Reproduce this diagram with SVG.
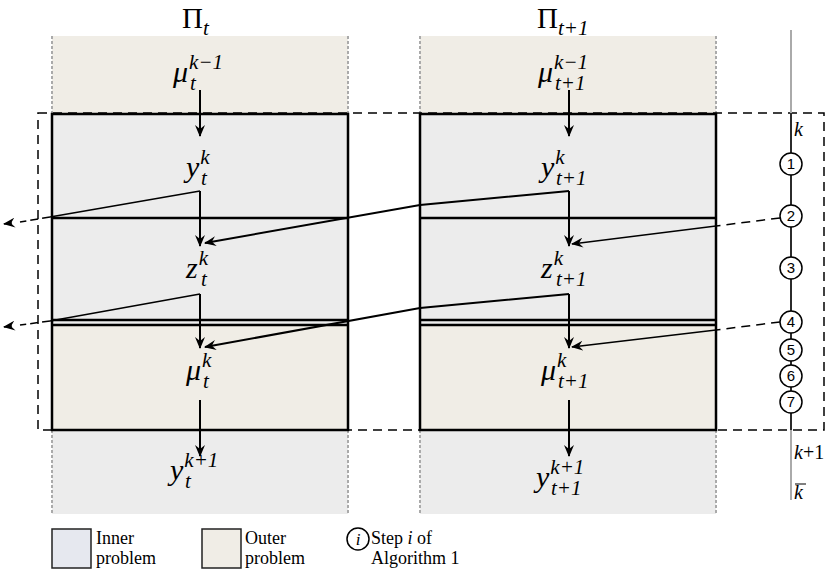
<svg xmlns="http://www.w3.org/2000/svg" width="829" height="569" viewBox="0 0 829 569">
<style>
.t{font-family:"Liberation Serif","DejaVu Serif",serif;font-style:italic;fill:#000}
.m{font-size:30px}.s{font-size:21px}
.r{font-family:"Liberation Serif",serif;fill:#000;font-size:21px}
.lg{font-family:"Liberation Serif",serif;fill:#000;font-size:18px}
.n{font-family:"Liberation Sans",sans-serif;font-size:15px;text-anchor:middle;fill:#000}
.blk{stroke:#000;stroke-width:2.5;fill:none}
.in{fill:#ececec}.out{fill:#f0ede6}
.ar{stroke:#000;stroke-width:2;fill:none;marker-end:url(#a)}
.th{stroke:#000;stroke-width:1.5;fill:none}
.ds{stroke:#000;stroke-width:1.5;fill:none;stroke-dasharray:9 6}
.gd{stroke:#aaa;stroke-width:2;stroke-dasharray:3 2}
</style>
<defs><marker id="a" viewBox="0 0 12 10" refX="11" refY="5" markerWidth="12" markerHeight="10" markerUnits="userSpaceOnUse" orient="auto"><path d="M0,0 L12,5 L0,10 L4,5Z" fill="#000"/></marker></defs>
<rect width="829" height="569" fill="#fff"/>
<g id="colL">
<rect class="out" x="52" y="36" width="296" height="77"/>
<rect class="in" x="52" y="113" width="296" height="212"/>
<rect class="out" x="52" y="325" width="296" height="105"/>
<rect class="in" x="52" y="430" width="296" height="84"/>
<line class="gd" x1="52" y1="36" x2="52" y2="113"/><line class="gd" x1="348" y1="36" x2="348" y2="113"/>
<line class="gd" x1="52" y1="430" x2="52" y2="514"/><line class="gd" x1="348" y1="430" x2="348" y2="514"/>
<rect class="blk" x="52" y="114" width="296" height="316"/>
<line class="blk" x1="52" y1="218" x2="348" y2="218"/>
<line class="blk" x1="52" y1="320" x2="348" y2="320"/><line class="blk" x1="52" y1="325" x2="348" y2="325"/>
</g>
<g id="colR">
<rect class="out" x="420" y="36" width="296" height="77"/>
<rect class="in" x="420" y="113" width="296" height="212"/>
<rect class="out" x="420" y="325" width="296" height="105"/>
<rect class="in" x="420" y="430" width="296" height="84"/>
<line class="gd" x1="420" y1="36" x2="420" y2="113"/><line class="gd" x1="716" y1="36" x2="716" y2="113"/>
<line class="gd" x1="420" y1="430" x2="420" y2="514"/><line class="gd" x1="716" y1="430" x2="716" y2="514"/>
<rect class="blk" x="420" y="114" width="296" height="316"/>
<line class="blk" x1="420" y1="218" x2="716" y2="218"/>
<line class="blk" x1="420" y1="320" x2="716" y2="320"/><line class="blk" x1="420" y1="325" x2="716" y2="325"/>
</g>
<g id="frame">
<path class="ds" d="M38,113 H824 V430 H38 Z"/>
</g>
<g id="labels">
<text class="r" x="182" y="28" style="font-size:29px">Π<tspan class="t s" dy="7">t</tspan></text>
<text class="r" x="537" y="28" style="font-size:29px">Π<tspan class="t s" dy="7">t+1</tspan></text>
<text class="t m" x="173" y="82">μ<tspan class="s" dx="1" dy="-13">k−1</tspan><tspan class="s" x="190" dy="21">t</tspan></text>
<text class="t m" x="538" y="82">μ<tspan class="s" dx="1" dy="-13">k−1</tspan><tspan class="s" x="555" dy="21">t+1</tspan></text>
<text class="t m" x="186" y="177">y<tspan class="s" dx="1" dy="-13">k</tspan><tspan class="s" x="201" dy="21">t</tspan></text>
<text class="t m" x="541" y="177">y<tspan class="s" dx="1" dy="-13">k</tspan><tspan class="s" x="556" dy="21">t+1</tspan></text>
<text class="t m" x="186" y="278">z<tspan class="s" dx="1" dy="-13">k</tspan><tspan class="s" x="201" dy="21">t</tspan></text>
<text class="t m" x="541" y="278">z<tspan class="s" dx="1" dy="-13">k</tspan><tspan class="s" x="556" dy="21">t+1</tspan></text>
<text class="t m" x="186" y="380">μ<tspan class="s" dx="1" dy="-13">k</tspan><tspan class="s" x="203" dy="21">t</tspan></text>
<text class="t m" x="541" y="380">μ<tspan class="s" dx="1" dy="-13">k</tspan><tspan class="s" x="558" dy="21">t+1</tspan></text>
<text class="t m" x="170" y="480">y<tspan class="s" dx="1" dy="-13">k+1</tspan><tspan class="s" x="185" dy="21">t</tspan></text>
<text class="t m" x="536" y="487">y<tspan class="s" dx="1" dy="-13">k+1</tspan><tspan class="s" x="551" dy="21">t+1</tspan></text>
</g>
<g id="connectors">
<line class="ar" x1="200" y1="90" x2="200" y2="136"/>
<line class="ar" x1="200" y1="191" x2="200" y2="246"/>
<line class="ar" x1="200" y1="294" x2="200" y2="348"/>
<line class="ar" x1="200" y1="400" x2="200" y2="456"/>
<line class="ar" x1="569" y1="90" x2="569" y2="136"/>
<line class="ar" x1="569" y1="191" x2="569" y2="246"/>
<line class="ar" x1="569" y1="294" x2="569" y2="348"/>
<line class="ar" x1="569" y1="400" x2="569" y2="456"/>
<path class="th" d="M200,191 L50,217"/><path class="ds" d="M50,217 L20,222" style="stroke-dasharray:8 4"/><line class="ar" x1="12" y1="223" x2="4" y2="224" style="stroke-width:1.5"/>
<path class="th" d="M200,294 L50,321"/><path class="ds" d="M50,321 L20,325" style="stroke-dasharray:8 4"/><line class="ar" x1="12" y1="326" x2="4" y2="327" style="stroke-width:1.5"/>
<path class="ar" d="M569,191 L420,205 L205,243"/>
<path class="ar" d="M569,294 L420,308 L205,347"/>
<path class="ds" d="M780,218 L716,226"/><line class="ar" x1="716" y1="226" x2="572" y2="244" style="stroke-width:1.5"/>
<path class="ds" d="M780,322 L716,330"/><line class="ar" x1="716" y1="330" x2="572" y2="347" style="stroke-width:1.5"/>
</g>
<g id="steps">
<line x1="791" y1="30" x2="791" y2="500" stroke="#aaa" stroke-width="2"/>
<line x1="791" y1="113" x2="791" y2="430" stroke="#000" stroke-width="1.5"/>
<g fill="#fff" stroke="#000" stroke-width="1.5">
<circle cx="791" cy="164" r="11"/><circle cx="791" cy="216" r="11"/><circle cx="791" cy="268" r="11"/><circle cx="791" cy="322" r="11"/><circle cx="791" cy="350" r="11"/><circle cx="791" cy="376" r="11"/><circle cx="791" cy="402" r="11"/>
</g>
<text class="n" x="791" y="169">1</text><text class="n" x="791" y="221">2</text><text class="n" x="791" y="273">3</text><text class="n" x="791" y="327">4</text><text class="n" x="791" y="355">5</text><text class="n" x="791" y="381">6</text><text class="n" x="791" y="407">7</text>
<text class="t" x="794" y="136" style="font-size:20px">k</text>
<text class="t" x="794" y="459" style="font-size:20px">k<tspan font-style="normal">+1</tspan></text>
<text class="t" x="794" y="499" style="font-size:20px">k</text>
<line x1="795" y1="484" x2="806" y2="484" stroke="#000" stroke-width="1"/>
</g>
<g id="legend">
<rect x="52" y="529" width="39" height="39" fill="#e6e8ef" stroke="#222" stroke-width="1.5"/>
<text class="lg" x="96" y="544">Inner</text><text class="lg" x="96" y="564">problem</text>
<rect x="202" y="529" width="39" height="39" fill="#f0ede6" stroke="#222" stroke-width="1.5"/>
<text class="lg" x="245" y="544">Outer</text><text class="lg" x="245" y="564">problem</text>
<circle cx="358" cy="539" r="11" fill="none" stroke="#000" stroke-width="1.5"/>
<text class="t" x="358" y="545" text-anchor="middle" style="font-size:17px">i</text>
<text class="lg" x="371" y="544">Step <tspan font-style="italic">i</tspan> of</text><text class="lg" x="371" y="564">Algorithm 1</text>
</g>
</svg>
